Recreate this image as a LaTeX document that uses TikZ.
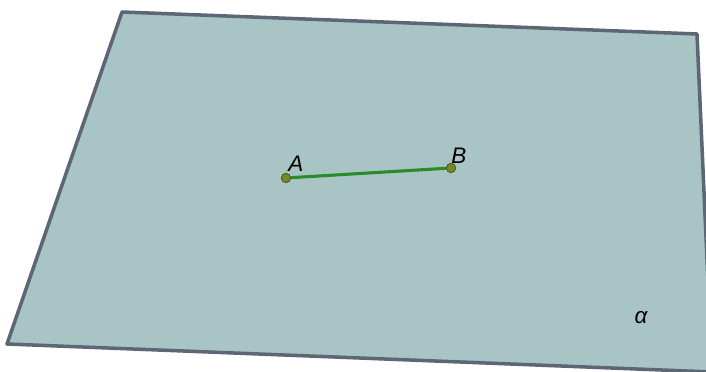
\documentclass[tikz,border=0pt]{standalone}
\usepackage{fontspec}
\setmainfont{Liberation Sans}
\definecolor{plano}{RGB}{169,196,196}
\definecolor{borde}{RGB}{92,102,116}
\definecolor{segmento}{RGB}{40,140,40}
\definecolor{puntof}{RGB}{120,135,40}
\definecolor{puntob}{RGB}{80,95,30}
\begin{document}
\begin{tikzpicture}[x=0.025cm, y=-0.025cm,
        punto/.style={circle, fill=puntof, draw=puntob, line width=0.6pt, minimum size=6.5pt, inner sep=0pt},
        etiqueta/.style={font=\fontsize{16}{18}\selectfont\itshape, inner sep=0pt}
    ]
        \useasboundingbox (0,0) rectangle (706,372);
        \clip (0,0) rectangle (706,372);

        % Plano alfa
        \draw[fill=plano, draw=borde, line width=2.5pt, line join=round]
            (122,12) -- (697,34) -- (712,372) -- (7,344) -- cycle;
        \node[etiqueta] (alfa) at (641,318) {α};

        % Puntos
        \node[punto] (A) at (286,178) {};
        \node[punto] (B) at (451,168) {};
        \node[etiqueta] (lA) at (296,164) {A};
        \node[etiqueta] (lB) at (459,156) {B};

        % Segmento AB
        \draw[segmento, line width=2.2pt] (A) -- (B);
        \node[punto] at (A) {};
        \node[punto] at (B) {};
    \end{tikzpicture}
\end{document}
